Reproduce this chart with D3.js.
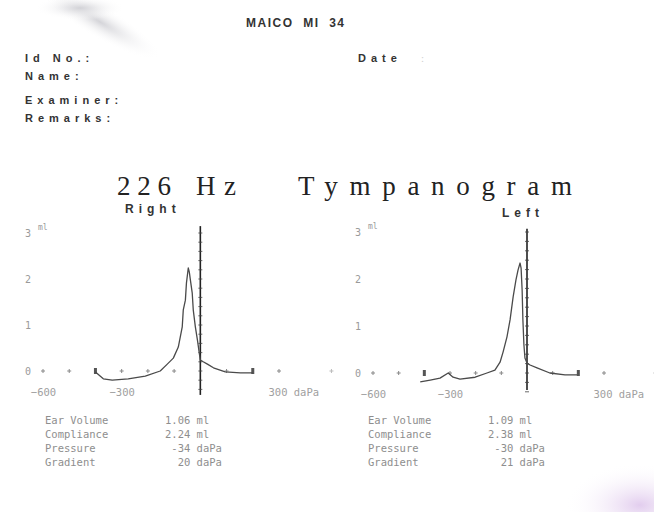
<!DOCTYPE html>
<html>
<head>
<meta charset="utf-8">
<script src="https://cdn.jsdelivr.net/npm/d3@7"></script>
<style>
  body { margin: 0; background: #fff; }
  svg { display: block; }
  .hdr { font-family: "Liberation Sans", Arial, sans-serif; font-weight: bold; fill: #333; }
  .mono { font-family: "DejaVu Sans Mono", monospace; fill: #8a8a8a; }
</style>
</head>
<body>
<svg id="chart" width="654" height="512"></svg>
<script>
// pressure in daPa, compliance in ml
const rightPressure   = [-400, -370, -336, -275, -210, -153, -126, -103, -84, -69, -65, -57, -53, -46, -42, -38, -31, -27, -19, -11, -4, 0, 11, 27, 50, 95, 153, 200];
const rightCompliance = [-0.02, -0.17, -0.2, -0.17, -0.11, 0.0, 0.15, 0.28, 0.52, 0.96, 1.33, 1.54, 1.91, 2.24, 2.15, 1.98, 1.7, 1.33, 0.96, 0.67, 0.39, 0.24, 0.2, 0.15, 0.07, -0.02, -0.04, -0.04];

const leftPressure   = [-416, -377, -339, -307, -288, -261, -202, -156, -125, -105, -93, -78, -66, -54, -43, -35, -27, -23, -19, -16, -12, -8, 0, 12, 39, 89, 148, 195];
const leftCompliance = [-0.19, -0.15, -0.11, 0.0, -0.09, -0.13, -0.09, 0.0, 0.06, 0.23, 0.45, 0.77, 1.13, 1.62, 1.98, 2.19, 2.34, 2.23, 1.77, 1.13, 0.6, 0.32, 0.21, 0.17, 0.11, 0.0, -0.04, -0.04];

const pressureMarks = [-600, -500, -400, -300, -200, -100, 100, 200, 300, 500];
const pressureLabels = [-600, -300, 300];
const complianceLabels = [0, 1, 2, 3];

const tableLabels = ["Ear Volume", "Compliance", "Pressure", "Gradient"];
const rightValues = ["1.06 ml", "2.24 ml", " -34 daPa", "  20 daPa"];
const leftValues  = ["1.09 ml", "2.38 ml", " -30 daPa", "  21 daPa"];

const headerLines = ["Id No.:", "Name:", "Examiner:", "Remarks:"];
const titleWords = ["226", "Hz", "Tympanogram"];

const svg = d3.select("#chart");

// paper stains from the scan
const defs = svg.append("defs");
const g1 = defs.append("radialGradient").attr("id", "stainTL");
g1.append("stop").attr("offset", "0%").attr("stop-color", "#cfcfd4").attr("stop-opacity", 0.9);
g1.append("stop").attr("offset", "100%").attr("stop-color", "#ffffff").attr("stop-opacity", 0);
const g2 = defs.append("radialGradient").attr("id", "stainBR");
g2.append("stop").attr("offset", "0%").attr("stop-color", "#e2cdee").attr("stop-opacity", 1);
g2.append("stop").attr("offset", "100%").attr("stop-color", "#ffffff").attr("stop-opacity", 0);

svg.append("ellipse").attr("cx", 0).attr("cy", 0).attr("rx", 70).attr("ry", 16)
  .attr("transform", "translate(100,22) rotate(30)")
  .attr("fill", "url(#stainTL)");
svg.append("ellipse").attr("cx", 80).attr("cy", 8).attr("rx", 45).attr("ry", 12)
  .attr("fill", "url(#stainTL)");
svg.append("ellipse").attr("cx", 640).attr("cy", 505).attr("rx", 75).attr("ry", 42)
  .attr("fill", "url(#stainBR)");

// header block
svg.append("text").attr("class", "hdr").attr("x", 246).attr("y", 27)
  .attr("font-size", 12).attr("letter-spacing", 1.5).attr("xml:space", "preserve")
  .text("MAICO  MI  34");

svg.selectAll("text.line").data(headerLines).join("text")
  .attr("class", "hdr line")
  .attr("x", 25)
  .attr("y", (d, i) => [62, 80, 104, 122][i])
  .attr("font-size", 11)
  .attr("letter-spacing", 5)
  .text(d => d);

svg.append("text").attr("class", "hdr").attr("x", 358).attr("y", 62)
  .attr("font-size", 11).attr("letter-spacing", 5).text("Date");
svg.append("text").attr("x", 421).attr("y", 62)
  .attr("font-size", 11).style("fill", "#cfcfcf").text(":");

// main title, one word at a time (the printer spaces them widely)
svg.selectAll("text.title").data(titleWords).join("text")
  .attr("class", "title")
  .attr("x", (d, i) => [117, 196, 298][i])
  .attr("y", 195)
  .attr("font-family", "Liberation Serif, serif")
  .attr("font-size", 27)
  .attr("fill", "#222")
  .attr("textLength", (d, i) => [54, 40, 274][i])
  .attr("lengthAdjust", "spacing")
  .text(d => d);

function drawPanel(cfg) {
  const x = d3.scaleLinear().domain([-600, 300]).range(cfg.xRange);
  const y = d3.scaleLinear().domain([0, 3]).range(cfg.yRange);
  const g = svg.append("g");

  g.append("text").attr("class", "hdr")
    .attr("x", cfg.titleX).attr("y", cfg.titleY)
    .attr("font-size", 12).attr("letter-spacing", cfg.titleSpacing)
    .text(cfg.title);

  // pressure labels under the zero line
  const xAxis = d3.axisBottom(x)
    .tickValues(pressureLabels)
    .tickSize(0)
    .tickFormat(d => d === 300 ? "300 daPa" : d3.format("d")(d));
  const xg = g.append("g").attr("transform", `translate(0,${y(0) + 22})`).call(xAxis);
  xg.select(".domain").remove();
  xg.selectAll("text")
    .attr("class", "mono").attr("font-size", 10.5)
    .style("fill", "#a0a0a0")
    .attr("text-anchor", d => d === 300 ? "start" : "middle")
    .attr("dx", d => d === 300 ? -11 : 0)
    .attr("dy", 0);

  // compliance labels on the left
  const yAxis = d3.axisLeft(y).tickValues(complianceLabels).tickSize(0).tickFormat(d3.format("d"));
  const yg = g.append("g").attr("transform", `translate(${cfg.xRange[0] - 12},0)`).call(yAxis);
  yg.select(".domain").remove();
  yg.selectAll("text")
    .attr("class", "mono").attr("font-size", 10).style("fill", "#9a9a9a")
    .attr("text-anchor", "middle").attr("dx", 0);
  g.append("text").attr("class", "mono")
    .attr("x", cfg.xRange[0] - 5).attr("y", y(3) - 3)
    .attr("font-size", 8).style("fill", "#9a9a9a").text("ml");

  // markers along the zero line
  pressureMarks.forEach(p => {
    const px = x(p), py = y(0);
    if (p === -400 || p === 200) {
      g.append("rect").attr("x", px - 1.5).attr("y", py - 3).attr("width", 3).attr("height", 6)
        .attr("fill", "#555");
    } else {
      g.append("path")
        .attr("d", `M${px - 2},${py}H${px + 2}M${px},${py - 2}V${py + 2}`)
        .attr("stroke", p === 500 ? "#bbb" : "#888").attr("stroke-width", 1);
    }
  });

  // 0 daPa line with tick marks
  const zx = x(0);
  g.append("line")
    .attr("x1", zx).attr("x2", zx)
    .attr("y1", y(cfg.lineTop)).attr("y2", y(cfg.lineBottom))
    .attr("stroke", "#222").attr("stroke-width", 1.6);
  const lineTicks = d3.range(-0.4, cfg.lineTop, 0.2);
  g.selectAll("line.vt").data(lineTicks).join("line")
    .attr("class", "vt")
    .attr("x1", zx - 2).attr("x2", zx + 2)
    .attr("y1", d => y(d)).attr("y2", d => y(d))
    .attr("stroke", "#444").attr("stroke-width", 0.8);

  // tympanogram trace
  const pts = cfg.pressure.map((p, i) => [p, cfg.compliance[i]]);
  const line = d3.line().x(d => x(d[0])).y(d => y(d[1]));
  g.append("path")
    .attr("d", line(pts))
    .attr("fill", "none")
    .attr("stroke", "#4a4a4a")
    .attr("stroke-width", 1.3)
    .attr("stroke-linejoin", "round");

  // results table
  const rows = g.append("g");
  tableLabels.forEach((lab, i) => {
    rows.append("text").attr("class", "mono")
      .attr("x", cfg.tableX).attr("y", 424 + i * 14)
      .attr("font-size", 10.5).style("fill", "#8e8e8e")
      .text(lab);
    rows.append("text").attr("class", "mono")
      .attr("x", cfg.tableX + 120).attr("y", 424 + i * 14)
      .attr("font-size", 10.5).style("fill", "#8e8e8e")
      .style("white-space", "pre")
      .text(cfg.values[i]);
  });
}

drawPanel({
  title: "Right", titleX: 125, titleY: 213, titleSpacing: 5,
  xRange: [43, 279], yRange: [371, 233],
  lineTop: 3.15, lineBottom: -0.52,
  pressure: rightPressure, compliance: rightCompliance,
  tableX: 45, values: rightValues
});

drawPanel({
  title: "Left", titleX: 502, titleY: 217, titleSpacing: 5,
  xRange: [373, 604], yRange: [373, 232],
  lineTop: 3.07, lineBottom: -0.36,
  pressure: leftPressure, compliance: leftCompliance,
  tableX: 368, values: leftValues
});
</script>
</body>
</html>
